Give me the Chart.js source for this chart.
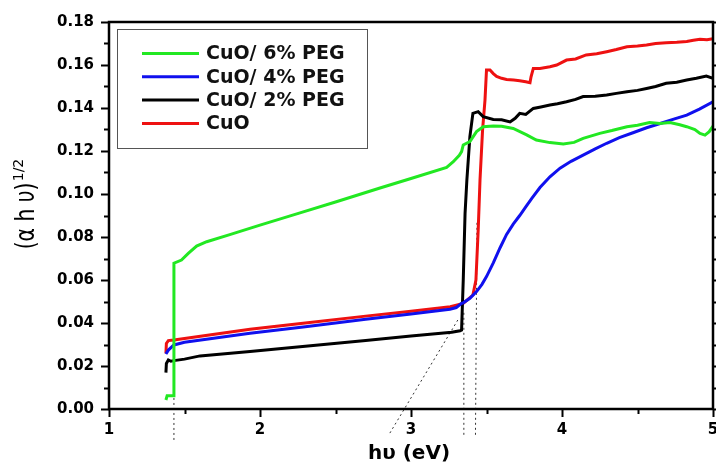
<!DOCTYPE html>
<html>
<head>
<meta charset="utf-8">
<script src="https://cdn.jsdelivr.net/npm/chart.js@4.4.0/dist/chart.umd.min.js"></script>
<style>
  html, body { margin: 0; padding: 0; background: #fff; }
  #wrap { width: 716px; height: 463px; position: relative; }
</style>
</head>
<body>
<div id="wrap"><canvas id="c"></canvas></div>
<script>
// ---------- data ----------
const seriesLabels = ['CuO/ 6% PEG', 'CuO/ 4% PEG', 'CuO/ 2% PEG', 'CuO'];
const seriesColors = ['#22e822', '#1010ee', '#000000', '#ee1111'];

const peg6_x = [1.377,1.385,1.415,1.430,1.430,1.48,1.525,1.58,1.647,1.8,2.0,2.265,2.5,2.8,3.0,3.236,3.28,3.32,3.335,3.346,3.39,3.434,3.478,3.545,3.6,3.677,3.766,3.83,3.92,4.009,4.08,4.14,4.25,4.33,4.43,4.5,4.58,4.65,4.715,4.78,4.826,4.88,4.914,4.947,4.975,5.0];
const peg6_y = [0.0042,0.0062,0.0062,0.0062,0.0678,0.0693,0.0724,0.0758,0.0778,0.0811,0.0855,0.0912,0.0963,0.1029,0.1072,0.1124,0.1150,0.1180,0.1197,0.1228,0.1244,0.1290,0.1313,0.1316,0.1315,0.1305,0.1275,0.1251,0.1239,0.1233,0.1240,0.1259,0.1282,0.1295,0.1313,0.1320,0.1332,0.1328,0.1332,0.1322,0.1313,0.1300,0.1282,0.1274,0.1290,0.1316];

const peg4_x = [1.377,1.393,1.43,1.5,1.934,2.3,2.7,3.0,3.258,3.3,3.335,3.346,3.39,3.434,3.47,3.5,3.545,3.59,3.633,3.677,3.72,3.76,3.8,3.854,3.92,3.987,4.06,4.14,4.22,4.296,4.38,4.47,4.56,4.65,4.74,4.826,4.91,5.0];
const peg4_y = [0.0256,0.0274,0.0298,0.0310,0.0352,0.0383,0.0417,0.0442,0.0464,0.0472,0.0491,0.0494,0.0515,0.0546,0.0580,0.0616,0.0680,0.0750,0.0812,0.0860,0.0900,0.0940,0.0980,0.1030,0.1080,0.1120,0.1152,0.1181,0.1210,0.1236,0.1262,0.1285,0.1308,0.1328,0.1348,0.1367,0.1395,0.1429];

const peg2_x = [1.377,1.38,1.393,1.41,1.43,1.5,1.603,1.934,2.3,2.7,3.0,3.27,3.325,3.335,3.346,3.358,3.37,3.39,3.41,3.445,3.478,3.545,3.6,3.656,3.69,3.72,3.76,3.81,3.86,3.92,3.97,4.03,4.09,4.14,4.22,4.296,4.36,4.43,4.5,4.56,4.62,4.69,4.76,4.826,4.89,4.956,5.0];
const peg2_y = [0.0169,0.0212,0.0228,0.0222,0.0225,0.0232,0.0247,0.0267,0.0292,0.0319,0.0339,0.0357,0.0364,0.0367,0.0600,0.0910,0.1065,0.1267,0.1375,0.1383,0.1360,0.1347,0.1345,0.1335,0.1352,0.1375,0.1370,0.1398,0.1405,0.1414,0.1420,0.1429,0.1440,0.1453,0.1455,0.1460,0.1468,0.1476,0.1482,0.1491,0.1500,0.1515,0.1520,0.1530,0.1538,0.1549,0.1538];

const cuo_x = [1.377,1.38,1.393,1.43,1.5,1.934,2.3,2.7,3.0,3.26,3.346,3.41,3.43,3.445,3.457,3.474,3.49,3.5,3.523,3.545,3.567,3.6,3.633,3.68,3.72,3.76,3.788,3.795,3.81,3.854,3.92,3.965,4.03,4.09,4.16,4.23,4.296,4.36,4.43,4.5,4.56,4.62,4.69,4.76,4.826,4.87,4.914,4.96,5.0];
const cuo_y = [0.0259,0.0305,0.0318,0.0321,0.0328,0.0371,0.0400,0.0432,0.0455,0.0476,0.0491,0.0530,0.0600,0.0833,0.1065,0.1298,0.1437,0.1577,0.1577,0.1560,0.1547,0.1538,0.1533,0.1530,0.1527,0.1522,0.1518,0.1545,0.1584,0.1584,0.1592,0.1600,0.1623,0.1628,0.1647,0.1652,0.1662,0.1672,0.1685,0.1688,0.1693,0.1700,0.1704,0.1706,0.1709,0.1715,0.1720,0.1718,0.1722];

// dotted extrapolation (tangent) lines
const tan1_x = [1.43, 1.43];   const tan1_y = [-0.0144, 0.052];
const tan2_x = [3.35, 3.35];   const tan2_y = [-0.012, 0.045];
const tan3_x = [3.427, 3.437]; const tan3_y = [-0.012, 0.087];
const tan4_x = [2.86, 3.31];   const tan4_y = [-0.0112, 0.0414];

const xTickValues = [1, 2, 3, 4, 5];
const yTickValues = [0, 0.02, 0.04, 0.06, 0.08, 0.10, 0.12, 0.14, 0.16, 0.18];

// ---------- build ----------
const pts = (xs, ys) => xs.map((x, i) => ({x: x, y: ys[i]}));
const seriesData = [pts(peg6_x, peg6_y), pts(peg4_x, peg4_y), pts(peg2_x, peg2_y), pts(cuo_x, cuo_y)];
const tangents = [pts(tan1_x, tan1_y), pts(tan2_x, tan2_y), pts(tan3_x, tan3_y), pts(tan4_x, tan4_y)];

const datasets = seriesData.map((d, i) => ({
  label: seriesLabels[i], data: d, borderColor: seriesColors[i], backgroundColor: seriesColors[i],
  borderWidth: 3, pointRadius: 0, tension: 0, fill: false, order: i
}));
tangents.forEach(d => datasets.push({
  label: '', data: d, borderColor: '#333', borderWidth: 1, borderDash: [2, 3],
  pointRadius: 0, fill: false, clip: false, order: 10
}));

const FONT = "'DejaVu Sans', sans-serif";

const framePlugin = {
  id: 'frame',
  afterDraw(chart) {
    const ctx = chart.ctx, a = chart.chartArea;
    const xs = chart.scales.x, ys = chart.scales.y;
    ctx.save();
    ctx.strokeStyle = '#000';
    ctx.lineWidth = 2.5;
    ctx.strokeRect(a.left, a.top, a.right - a.left, a.bottom - a.top);
    ctx.lineWidth = 2;
    // y ticks (left, outward) and right small ticks
    for (let k = 0; k <= 18; k++) {
      const v = k / 100;
      const py = Math.round(ys.getPixelForValue(v)) + 0.5;
      const len = (k % 2 === 0) ? 8 : 5;
      ctx.beginPath(); ctx.moveTo(a.left - len, py); ctx.lineTo(a.left, py); ctx.stroke();
      ctx.beginPath(); ctx.moveTo(a.right, py); ctx.lineTo(a.right + 3, py); ctx.stroke();
    }
    // x ticks (bottom, outward)
    for (let k = 0; k <= 8; k++) {
      const v = 1 + k / 2;
      const px = Math.round(xs.getPixelForValue(v)) + 0.5;
      const len = (k % 2 === 0) ? 8 : 5;
      ctx.beginPath(); ctx.moveTo(px, a.bottom); ctx.lineTo(px, a.bottom + len); ctx.stroke();
    }
    // legend box
    ctx.lineWidth = 1;
    ctx.strokeStyle = '#555';
    ctx.fillStyle = '#fff';
    ctx.fillRect(117.5, 29.5, 250, 119);
    ctx.strokeRect(117.5, 29.5, 250, 119);
    ctx.font = 'bold 19px ' + FONT;
    ctx.textBaseline = 'middle';
    ctx.textAlign = 'left';
    for (let i = 0; i < 4; i++) {
      const y = 53.5 + i * 23.3;
      ctx.strokeStyle = seriesColors[i];
      ctx.lineWidth = 3;
      ctx.beginPath(); ctx.moveTo(142, y); ctx.lineTo(199, y); ctx.stroke();
      ctx.fillStyle = '#111';
      ctx.fillText(seriesLabels[i], 206, y + 1);
    }
    // x title
    ctx.fillStyle = '#000';
    ctx.font = 'bold 20px ' + FONT;
    ctx.textAlign = 'center';
    ctx.textBaseline = 'alphabetic';
    ctx.fillText('h\u03C5 (eV)', 409, 459);
    // y title
    ctx.save();
    ctx.translate(27.5, 216);
    ctx.rotate(-Math.PI / 2);
    ctx.scale(0.78, 1);
    ctx.font = '26px ' + FONT;
    ctx.textBaseline = 'middle';
    ctx.fillText('(\u03B1 h \u03C5)', 0, 0);
    ctx.restore();
    ctx.save();
    ctx.translate(19, 170);
    ctx.rotate(-Math.PI / 2);
    ctx.font = '14px ' + FONT;
    ctx.textAlign = 'center';
    ctx.textBaseline = 'middle';
    ctx.fillText('1/2', 0, 0);
    ctx.restore();
    ctx.restore();
  }
};

new Chart(document.getElementById('c'), {
  type: 'line',
  data: { datasets: datasets },
  options: {
    responsive: true, maintainAspectRatio: false, animation: false, devicePixelRatio: 1,
    layout: { padding: { top: 22, right: 3, left: 0, bottom: 0 } },
    plugins: { legend: { display: false }, tooltip: { enabled: false } },
    scales: {
      x: {
        type: 'linear', min: 1, max: 5,
        afterBuildTicks: s => { s.ticks = xTickValues.map(v => ({value: v})); },
        afterFit: s => { s.height = 54; s.paddingLeft = 0; s.paddingRight = 0; },
        grid: { display: false, drawTicks: false },
        border: { display: false },
        ticks: { color: '#000', font: { family: FONT, size: 15, weight: 'bold' }, padding: 12,
                 maxRotation: 0, autoSkip: false, callback: v => String(v) }
      },
      y: {
        type: 'linear', min: 0, max: 0.18,
        afterBuildTicks: s => { s.ticks = yTickValues.map(v => ({value: v})); },
        afterFit: s => { s.width = 109; s.paddingTop = 0; s.paddingBottom = 0; },
        grid: { display: false, drawTicks: false },
        border: { display: false },
        ticks: { color: '#000', font: { family: FONT, size: 15, weight: 'bold' }, padding: 15,
                 autoSkip: false, callback: v => Number(v).toFixed(2) }
      }
    }
  },
  plugins: [framePlugin]
});
</script>
</body>
</html>
